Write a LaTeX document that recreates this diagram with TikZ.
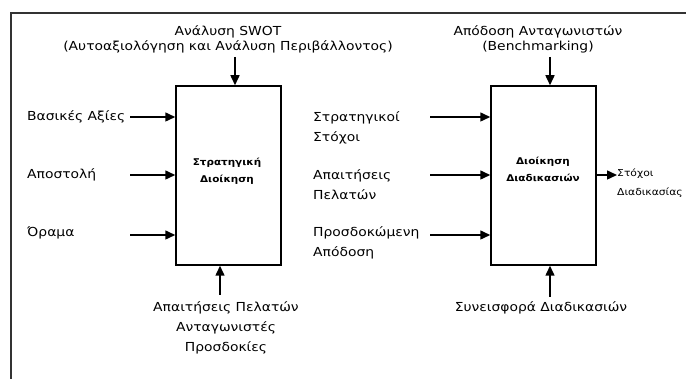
\documentclass[tikz,border=0pt]{standalone}
\usepackage{fontspec}
\setmainfont[FakeStretch=1.12]{DejaVu Sans}
\usetikzlibrary{arrows.meta}
\tikzset{
  lbl/.style={inner sep=0pt, font=\fontsize{12.4}{15}\selectfont},
  lbltwo/.style={inner sep=0pt, align=left, font=\fontsize{12.4}{20}\selectfont},
  small/.style={inner sep=0pt, align=left, font=\fontsize{9.6}{19}\selectfont},
  title/.style={inner sep=0pt, align=center, font=\fontsize{9.3}{16.5}\selectfont\bfseries},
  blockbox/.style={draw, line width=1.5pt, minimum width=105pt, minimum height=179pt, inner sep=0pt},
  arr/.style={line width=1.5pt, -{Triangle[length=10pt,width=9pt]}},
  frame/.style={line width=2pt, black!80}
}
\begin{document}
\begin{tikzpicture}[x=1pt,y=-1pt]
\useasboundingbox (0,0) rectangle (686,379);

% outer frame (top and left edges)
\draw[frame] (11,379) -- (11,13) -- (686,13);

% ---------- strategic management block ----------
\node[blockbox] (b1) at (228.5,175.5) {};
\node[title] (b1t) at (227,171.5) {Στρατηγική\\Διοίκηση};

\node[lbl, align=center] (swot) at (228,39.5) {Ανάλυση SWOT\\(Αυτοαξιολόγηση και Ανάλυση Περιβάλλοντος)};
\coordinate (s1) at (235,57);
\draw[arr] (s1) -- (s1 |- b1.north);

\node[lbl, anchor=west] (in1) at (27,117) {Βασικές Αξίες};
\node[lbl, anchor=west] (in2) at (27,175) {Αποστολή};
\node[lbl, anchor=west] (in3) at (27,233) {Όραμα};
\coordinate (a1) at (130,117);
\coordinate (a2) at (130,175);
\coordinate (a3) at (130,235);
\draw[arr] (a1) -- (a1 -| b1.west);
\draw[arr] (a2) -- (a2 -| b1.west);
\draw[arr] (a3) -- (a3 -| b1.west);

\node[lbltwo, align=center] (req) at (226,328) {Απαιτήσεις Πελατών\\Ανταγωνιστές\\Προσδοκίες};
\coordinate (u1) at (220,295);
\draw[arr] (u1) -- (u1 |- b1.south);

% ---------- process management block ----------
\node[blockbox] (b2) at (543.5,175.5) {};
\node[title] (b2t) at (543,169.5) {Διοίκηση\\Διαδικασιών};

\node[lbl, align=center] (bench) at (538,39.5) {Απόδοση Ανταγωνιστών\\(Benchmarking)};
\coordinate (s2) at (550,57);
\draw[arr] (s2) -- (s2 |- b2.north);

\node[lbltwo, anchor=west] (p1) at (313,127.5) {Στρατηγικοί\\Στόχοι};
\node[lbltwo, anchor=west] (p2) at (313,185) {Απαιτήσεις\\Πελατών};
\node[lbltwo, anchor=west] (p3) at (313,243) {Προσδοκώμενη\\Απόδοση};
\coordinate (c1) at (430,117);
\coordinate (c2) at (430,175);
\coordinate (c3) at (430,235);
\draw[arr] (c1) -- (c1 -| b2.west);
\draw[arr] (c2) -- (c2 -| b2.west);
\draw[arr] (c3) -- (c3 -| b2.west);

\node[lbl] (contrib) at (541,308) {Συνεισφορά Διαδικασιών};
\coordinate (u2) at (550,297);
\draw[arr] (u2) -- (u2 |- b2.south);

\node[small, anchor=west] (out) at (617,183.5) {Στόχοι\\Διαδικασίας};
\draw[arr] (b2.east |- 0,175) -- (out.west |- 0,175);
\end{tikzpicture}
\end{document}
